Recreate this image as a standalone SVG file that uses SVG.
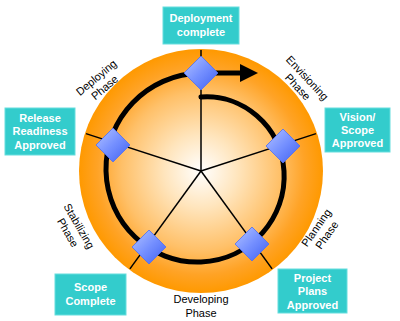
<svg xmlns="http://www.w3.org/2000/svg" width="400" height="321" viewBox="0 0 400 321">
<style>
.box{fill:#33cccc;stroke:#66dede;stroke-width:1}
.bt{font-family:"Liberation Sans",Arial,sans-serif;font-weight:bold;font-size:11px;fill:#ffffff;text-anchor:middle}
.ph{font-family:"Liberation Sans",Arial,sans-serif;font-size:11px;fill:#000000;text-anchor:middle}
.spoke{stroke:#000;stroke-width:1.5;fill:none}
.spiral{stroke:#000;stroke-width:5;fill:none;stroke-linecap:round;stroke-linejoin:round}
</style>
<defs>
<radialGradient id="og" cx="201" cy="171" r="122" gradientUnits="userSpaceOnUse">
<stop offset="0" stop-color="#ffffff"/>
<stop offset="0.3" stop-color="#ffe5bd"/>
<stop offset="0.65" stop-color="#ffc068"/>
<stop offset="0.85" stop-color="#ffa326"/>
<stop offset="1" stop-color="#ff9900"/>
</radialGradient>
<linearGradient id="dg" x1="0" y1="0" x2="1" y2="1">
<stop offset="0" stop-color="#b4c4ff"/>
<stop offset="0.5" stop-color="#7590ff"/>
<stop offset="1" stop-color="#3f5ff0"/>
</linearGradient>
<path id="dia" d="M0,-17 L17,0 L0,17 L-17,0 Z" fill="url(#dg)" stroke="#4f6ff0" stroke-width="0.8"/>
</defs>
<circle id="wheel" cx="201" cy="171" r="122" fill="url(#og)"/>
<g id="connectors">
<line class="spoke" x1="201" y1="171" x2="201" y2="50"/>
<line class="spoke" x1="201" y1="171" x2="316" y2="133.6"/>
<line class="spoke" x1="201" y1="171" x2="272.1" y2="268.9"/>
<line class="spoke" x1="201" y1="171" x2="129.9" y2="268.9"/>
<line class="spoke" x1="201" y1="171" x2="86" y2="133.6"/>
<path class="spiral" d="M201,97 C241.9,93.8 281,125.2 284,171 C287,216.8 251.3,259.9 201,262 C150.7,264.1 107.2,223.5 106,171 C104.8,118.5 146.9,74 201,73 L244,73"/>
<polygon points="240,64 258,73 240,82" fill="#000"/>
</g>
<g id="node-deployment"><use href="#dia" x="201" y="73"/><rect class="box" x="163" y="7" width="76" height="37"/><text class="bt" x="201" y="22">Deployment</text><text class="bt" x="201" y="36">complete</text></g>
<g id="node-vision"><use href="#dia" x="283" y="146"/><rect class="box" x="325" y="108" width="65" height="44"/><text class="bt" x="357.5" y="121">Vision/</text><text class="bt" x="357.5" y="134">Scope</text><text class="bt" x="357.5" y="147">Approved</text></g>
<g id="node-project"><use href="#dia" x="252" y="244"/><rect class="box" x="278" y="269" width="69" height="44"/><text class="bt" x="312.5" y="282">Project</text><text class="bt" x="312.5" y="295">Plans</text><text class="bt" x="312.5" y="309">Approved</text></g>
<g id="node-scope"><use href="#dia" x="149" y="247"/><rect class="box" x="55" y="274" width="71" height="41"/><text class="bt" x="90.5" y="291">Scope</text><text class="bt" x="90.5" y="305">Complete</text></g>
<g id="node-release"><use href="#dia" x="113" y="145"/><rect class="box" x="5" y="108" width="70" height="47"/><text class="bt" x="40" y="122">Release</text><text class="bt" x="40" y="135">Readiness</text><text class="bt" x="40" y="149">Approved</text></g>
<g id="phases">
<text class="ph" transform="translate(100,82) rotate(-40)"><tspan x="0" y="-2">Deploying</tspan><tspan x="0" y="11">Phase</tspan></text>
<text class="ph" transform="translate(303,82) rotate(47)"><tspan x="0" y="-2">Envisioning</tspan><tspan x="0" y="11">Phase</tspan></text>
<text class="ph" transform="translate(321,231) rotate(-55)"><tspan x="0" y="-2">Planning</tspan><tspan x="0" y="11">Phase</tspan></text>
<text class="ph" transform="translate(74,229) rotate(60)"><tspan x="0" y="-2">Stabilizing</tspan><tspan x="0" y="11">Phase</tspan></text>
<text class="ph" x="201" y="303">Developing</text>
<text class="ph" x="201" y="317">Phase</text>
</g>
</svg>
